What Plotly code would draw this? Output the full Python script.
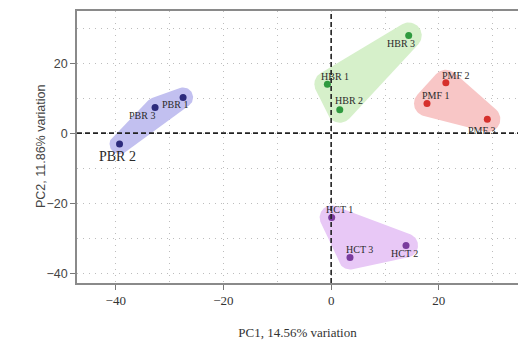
import math
import plotly.graph_objects as go

# PCA scores per sample group
groups = ["PBR", "HBR", "PMF", "HCT"]
sample_labels = {
    "PBR": ["PBR 1", "PBR 3", "PBR 2"],
    "HBR": ["HBR 1", "HBR 2", "HBR 3"],
    "PMF": ["PMF 1", "PMF 2", "PMF 3"],
    "HCT": ["HCT 1", "HCT 3", "HCT 2"],
}
pc1 = {
    "PBR": [-27.5, -32.7, -39.3],
    "HBR": [-0.7, 1.6, 14.4],
    "PMF": [17.8, 21.3, 29.0],
    "HCT": [0.1, 3.5, 13.9],
}
pc2 = {
    "PBR": [10.2, 7.3, -3.1],
    "HBR": [14.0, 6.7, 27.9],
    "PMF": [8.5, 14.4, 4.0],
    "HCT": [-24.1, -35.5, -32.1],
}
x_ticks = [-40, -20, 0, 20]
y_ticks = [-40, -20, 0, 20]

# styling
point_colors = {"PBR": "#2c2a7c", "HBR": "#2f9a3f", "PMF": "#d6302c", "HCT": "#7a3c9e"}
hull_colors = {
    "PBR": "rgb(194,192,240)",
    "HBR": "rgb(214,240,202)",
    "PMF": "rgb(248,198,198)",
    "HCT": "rgb(232,200,246)",
}
hull_radius = {"PBR": 10, "HBR": 13, "PMF": 13, "HCT": 12}
# label offsets in pixels (right, up)
label_shift = {
    "PBR 1": (-8, -7), "PBR 3": (-13, -8), "PBR 2": (-2, -12),
    "HBR 1": (8, 8), "HBR 2": (9, 9), "HBR 3": (-8, -8),
    "PMF 1": (9, 8), "PMF 2": (10, 7), "PMF 3": (-5, -11),
    "HCT 1": (8, 8), "HCT 3": (9, 8), "HCT 2": (-2, -8),
}
label_size = {"PBR 2": 14}

W, H = 518, 340
margin = dict(l=77, r=0, t=11, b=57)
x_range = [-47.2, 34.7]
y_range = [-42.8, 34.9]
plot_w = W - margin["l"] - margin["r"]
plot_h = H - margin["t"] - margin["b"]
sx = plot_w / (x_range[1] - x_range[0])
sy = plot_h / (y_range[1] - y_range[0])


def convex_hull(points):
    pts = sorted(set(points))
    if len(pts) <= 2:
        return pts

    def cross(o, a, b):
        return (a[0] - o[0]) * (b[1] - o[1]) - (a[1] - o[1]) * (b[0] - o[0])

    lower, upper = [], []
    for p in pts:
        while len(lower) >= 2 and cross(lower[-2], lower[-1], p) <= 0:
            lower.pop()
        lower.append(p)
    for p in reversed(pts):
        while len(upper) >= 2 and cross(upper[-2], upper[-1], p) <= 0:
            upper.pop()
        upper.append(p)
    return lower[:-1] + upper[:-1]


def expanded_hull(xs, ys, radius_px=12, n=60):
    """Rounded hull around the points, expanded by a fixed pixel radius."""
    pts = []
    for x, y in zip(xs, ys):
        px, py = x * sx, y * sy
        for k in range(n):
            a = 2 * math.pi * k / n
            pts.append((round(px + radius_px * math.cos(a), 4),
                        round(py + radius_px * math.sin(a), 4)))
    hull = convex_hull(pts)
    hull.append(hull[0])
    return [p[0] / sx for p in hull], [p[1] / sy for p in hull]


fig = go.Figure()

for g in groups:
    hx, hy = expanded_hull(pc1[g], pc2[g], hull_radius[g])
    fig.add_trace(go.Scatter(
        x=hx, y=hy, mode="lines", fill="toself",
        fillcolor=hull_colors[g], line=dict(width=0),
        hoverinfo="skip", showlegend=False,
    ))

for g in groups:
    fig.add_trace(go.Scatter(
        x=pc1[g], y=pc2[g], mode="markers",
        marker=dict(color=point_colors[g], size=7),
        text=sample_labels[g], showlegend=False,
    ))

annotations = []
for g in groups:
    for x, y, lab in zip(pc1[g], pc2[g], sample_labels[g]):
        dx, dy = label_shift[lab]
        annotations.append(dict(
            x=x, y=y, text=lab, showarrow=False,
            xshift=dx, yshift=dy,
            font=dict(family="Liberation Serif", size=label_size.get(lab, 10),
                      color="#2a2a2a"),
        ))

# y-axis title
annotations.append(dict(
    xref="paper", yref="paper", x=0, y=0.5, xshift=-45, textangle=-90,
    text="PC2, 11.86% variation", showarrow=False,
    font=dict(family="Liberation Sans", size=12.5, color="#444444"),
))

# dashed reference lines through the origin
shapes = [
    dict(type="line", xref="x", yref="paper", x0=0, x1=0, y0=0, y1=1,
         line=dict(color="#222222", width=1.6, dash="5px,3px"), layer="above"),
    dict(type="line", xref="paper", yref="y", x0=0, x1=1, y0=0, y1=0,
         line=dict(color="#222222", width=1.6, dash="5px,3px"), layer="above"),
]

grid = dict(showgrid=True, gridcolor="#bdbdbd", gridwidth=1, griddash="1px,5px")
minor = dict(dtick=10, tick0=0, showgrid=True, gridcolor="#bdbdbd",
             griddash="1px,5px", ticks="")

fig.update_layout(
    width=W, height=H, margin=margin,
    paper_bgcolor="white", plot_bgcolor="white",
    annotations=annotations, shapes=shapes,
    xaxis=dict(
        range=x_range, tickmode="array", tickvals=x_ticks,
        ticktext=[("\u2212" + str(abs(v))) if v < 0 else str(v) for v in x_ticks],
        ticks="outside", ticklen=5, tickcolor="#777777", tickwidth=1.2,
        showline=True, linecolor="#8a8a8a", linewidth=1.6, mirror=True,
        zeroline=False,
        tickfont=dict(family="Liberation Serif", size=13, color="#333333"),
        title=dict(text="PC1, 14.56% variation", standoff=20,
                   font=dict(family="Liberation Serif", size=13, color="#333333")),
        minor=minor,
        **grid,
    ),
    yaxis=dict(
        range=y_range, tickmode="array", tickvals=y_ticks,
        ticktext=[("\u2212" + str(abs(v))) if v < 0 else str(v) for v in y_ticks],
        ticks="outside", ticklen=5, tickcolor="#777777", tickwidth=1.2,
        showline=True, linecolor="#8a8a8a", linewidth=1.6,
        zeroline=False,
        tickfont=dict(family="Liberation Sans", size=12.5, color="#444444"),
        minor=minor,
        **grid,
    ),
)

fig.write_html("out.html")
